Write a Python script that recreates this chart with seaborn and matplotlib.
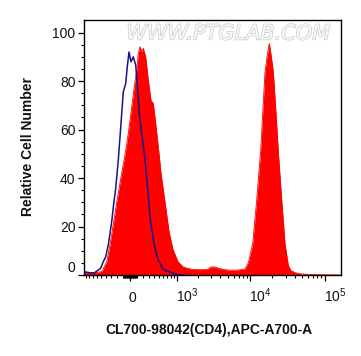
import numpy as np
import pandas as pd
import matplotlib
matplotlib.use("Agg")
import matplotlib.pyplot as plt
import seaborn as sns
from matplotlib import patheffects as pe
from matplotlib.transforms import ScaledTranslation

# ---------------- data (fluorescence intensity, relative cell number) ----------------
sample_x = [-956, -772, -591, -479, -384, -323, -264, -207, -138, -76, -26, 26, 65, 102,
            127, 154, 181, 207, 247, 292, 341, 384, 431, 485, 545, 640, 744, 860, 1024,
            1213, 1430, 1682, 2104, 2624, 2975, 3268, 3589, 4325, 5375, 6679, 8560, 9482,
            10863, 12294, 13916, 14803, 15891, 16905, 18155, 19130, 20541, 22329, 23971,
            26632, 29493, 32659, 35501, 40175, 46888, 63872, 166478]
sample_y = [1.0, 1.0, 1.0, 1.5, 5.5, 12.4, 21, 30, 40.5, 49.5, 58.4, 69.4, 77.7, 84.5,
            91.4, 94.2, 92, 93.5, 90, 80.4, 72, 70.8, 62.6, 52.9, 42, 30, 18, 10.5, 5.5,
            3.4, 2.7, 2.3, 2.2, 2.3, 3.3, 3.4, 3.0, 2.3, 2.0, 2.0, 2.5, 5,
            13, 31, 51.5, 66.8, 83.8, 90, 95.5, 91, 83.8, 66.8, 51,
            31, 13, 4, 1.8, 1.0, 0.5, 0.2, 0]

control_x = [-956, -772, -665, -561, -507, -452, -404, -354, -292, -264, -224, -181, -138,
             -102, -65, -41, -15, 15, 50, 87, 118, 143, 181, 235, 275, 328, 402, 479, 522,
             579, 640, 772, 990, 1296]
control_y = [1.4, 0.9, 0.8, 2, 2.8, 5.5, 7.5, 12.4, 22, 28, 35.7, 47.4, 62.6,
             75.6, 79, 86, 92, 88, 90, 86.6, 76.3, 66.7, 58.4, 48, 37, 23, 12.6, 6.2, 5,
             2.5, 2, 1.2, 0.2, 0]

x_ticks = [0, 1e3, 1e4, 1e5]
x_tick_labels = ["0", r"$10^{3}$", r"$10^{4}$", r"$10^{5}$"]
y_ticks = [0, 20, 40, 60, 80, 100]
y_tick_labels = ["0", "20", "40", "60", "80", "100"]
x_minor = ([-v for v in range(100, 1000, 100)] + [-v for v in range(10, 100, 10)] +
           list(range(10, 100, 10)) + list(range(100, 1000, 100)) +
           list(range(2000, 10000, 1000)) + list(range(20000, 100000, 10000)))
y_minor = [v for v in range(0, 105, 5) if v % 20]

x_label = "CL700-98042(CD4),APC-A700-A"
y_label = "Relative Cell Number"
watermark = "WWW.PTGLAB.COM"

# ---------------- style ----------------
sns.set_theme(style="ticks")
plt.rcParams["font.family"] = ["Liberation Sans", "DejaVu Sans"]
plt.rcParams["mathtext.fontset"] = "custom"
plt.rcParams["mathtext.rm"] = "Liberation Sans"
plt.rcParams["mathtext.it"] = "Liberation Sans:italic"
plt.rcParams["mathtext.bf"] = "Liberation Sans:bold"
plt.rcParams["mathtext.default"] = "rm"

C = 490.0


def fwd(x):
    return np.arcsinh(np.asarray(x, dtype=float) / C) / np.log(10)


def inv(u):
    return C * np.sinh(np.asarray(u, dtype=float) * np.log(10))


fig = plt.figure(figsize=(3.61, 3.56), dpi=100)
ax = fig.add_axes([84 / 361, 81 / 356, 257 / 361, 255 / 356])
ax.set_xscale("function", functions=(fwd, inv))

sample = pd.DataFrame({"x": sample_x, "y": sample_y})
control = pd.DataFrame({"x": control_x, "y": control_y})

ax.fill_between(sample["x"], 0, sample["y"], color="#ff0000", lw=0, zorder=2)
sns.lineplot(data=sample, x="x", y="y", ax=ax, color="#ff0000", lw=0.6, sort=False,
             zorder=2.1)
sns.lineplot(data=control, x="x", y="y", ax=ax, color="#14148c", lw=1.1, sort=False,
             zorder=3)

ax.set_xlim(-956, 166478)
ax.set_ylim(0, 105.2)

ax.set_xticks(x_ticks)
ax.set_xticklabels(x_tick_labels)
ax.set_xticks(x_minor, minor=True)
ax.set_yticks(y_ticks)
ax.set_yticklabels(y_tick_labels)
ax.set_yticks(y_minor, minor=True)

for s in ax.spines.values():
    s.set_visible(True)
    s.set_color("black")
    s.set_linewidth(1.0)

ax.tick_params(axis="both", which="major", direction="out", length=4.3, width=0.9,
               color="black", labelsize=10, labelcolor="#111111")
ax.tick_params(axis="both", which="minor", direction="out", length=2.2, width=0.8,
               color="black")
ax.tick_params(axis="x", which="major", pad=14.8)
ax.tick_params(axis="y", which="major", pad=1.8)

ax.set_xlabel(x_label, fontsize=10, fontweight="bold", color="#111111")
ax.set_ylabel(y_label, fontsize=10, fontweight="bold", color="#111111")
ax.xaxis.set_label_coords(0.486, -0.188)
ax.yaxis.set_label_coords(-0.191, 0.504)

off = ScaledTranslation(-1 / 100, 0, fig.dpi_scale_trans)
for lab in ax.xaxis.get_majorticklabels():
    lab.set_verticalalignment("baseline")
    lab.set_horizontalalignment("left")
    lab.set_transform(lab.get_transform() + off)
ax.yaxis.get_majorticklabels()[0].set_verticalalignment("bottom")

ax.text(0.562, 0.947, watermark, transform=ax.transAxes, ha="center", va="center",
        fontsize=15, family="DejaVu Sans", style="oblique", color="#fafafa", zorder=1,
        path_effects=[pe.withStroke(linewidth=1.0, foreground="#c8c8c8")])

ax.grid(False)
ax.set_facecolor("white")
fig.savefig("out.png", dpi=100, facecolor="white")
